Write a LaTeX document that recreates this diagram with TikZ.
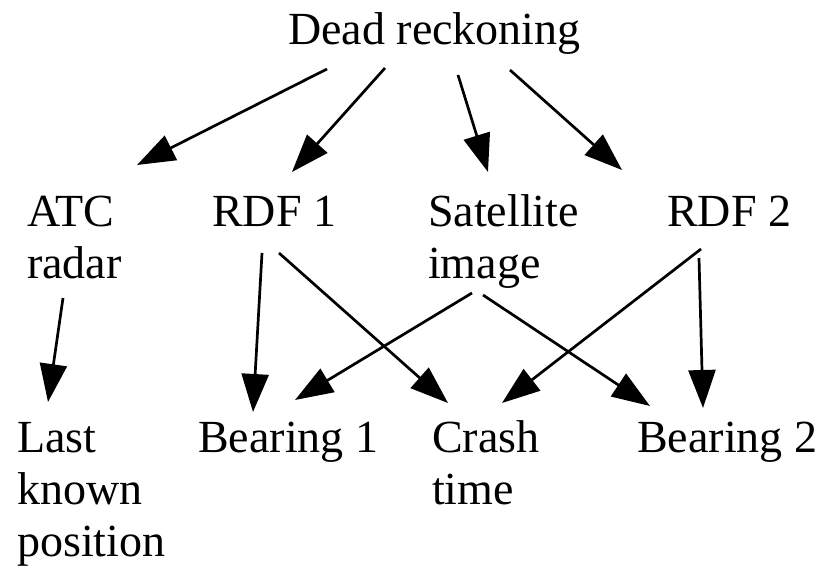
\documentclass[tikz,border=0pt]{standalone}
\usepackage{fontspec}
\setmainfont{Liberation Serif}
\usetikzlibrary{arrows.meta}
% stacked lines whose baseline is that of the first line
\newcommand{\stackedlines}[1]{\vtop{\halign{##\hfil\cr#1\crcr}}}
\begin{document}
\begin{tikzpicture}[x=1pt,y=-1pt,
  lbl/.style={anchor=base west,inner sep=0pt,
    font=\fontsize{46}{52}\selectfont},
  arr/.style={line width=2.7pt,-{Triangle[length=38pt,width=27pt]}}]
\useasboundingbox[fill=white] (0,0) rectangle (836,566);

% labels
\node[lbl] (dr)    at (288,44)  {Dead reckoning};
\node[lbl] (atc)   at (27,226)  {\stackedlines{ATC\cr radar}};
\node[lbl] (rdfa)  at (212,226) {RDF 1};
\node[lbl] (sat)   at (428,226) {\stackedlines{Satellite\cr image}};
\node[lbl] (rdfb)  at (667,226) {RDF 2};
\node[lbl] (last)  at (17,452)  {\stackedlines{Last\cr known\cr position}};
\node[lbl] (bra)   at (198,452) {Bearing 1};
\node[lbl] (crash) at (432,452) {\stackedlines{Crash\cr time}};
\node[lbl] (brb)   at (637,452) {Bearing 2};

% dead reckoning to the four sources
\draw[arr] ([shift={(39,25)}]dr.base west)  -- ([shift={(110,-61)}]atc.base west);
\draw[arr] ([shift={(97,24)}]dr.base west)  -- ([shift={(80,-54)}]rdfa.base west);
\draw[arr] ([shift={(170,31)}]dr.base west) -- ([shift={(60,-54)}]sat.base west);
\draw[arr] ([shift={(222,26)}]dr.base west) -- ([shift={(-45,-56)}]rdfb.base west);

% sources to the derived quantities
\draw[arr] ([shift={(36,72)}]atc.base west)  -- ([shift={(31,-50)}]last.base west);
\draw[arr] ([shift={(50,27)}]rdfa.base west) -- ([shift={(55,-40)}]bra.base west);
\draw[arr] ([shift={(67,27)}]rdfa.base west) -- ([shift={(16,-49)}]crash.base west);
\draw[arr] ([shift={(44,67)}]sat.base west)  -- ([shift={(97,-52)}]bra.base west);
\draw[arr] ([shift={(55,69)}]sat.base west)  -- ([shift={(13,-46)}]brb.base west);
\draw[arr] ([shift={(34,23)}]rdfb.base west) -- ([shift={(70,-49)}]crash.base west);
\draw[arr] ([shift={(32,32)}]rdfb.base west) -- ([shift={(66,-44)}]brb.base west);
\end{tikzpicture}
\end{document}
